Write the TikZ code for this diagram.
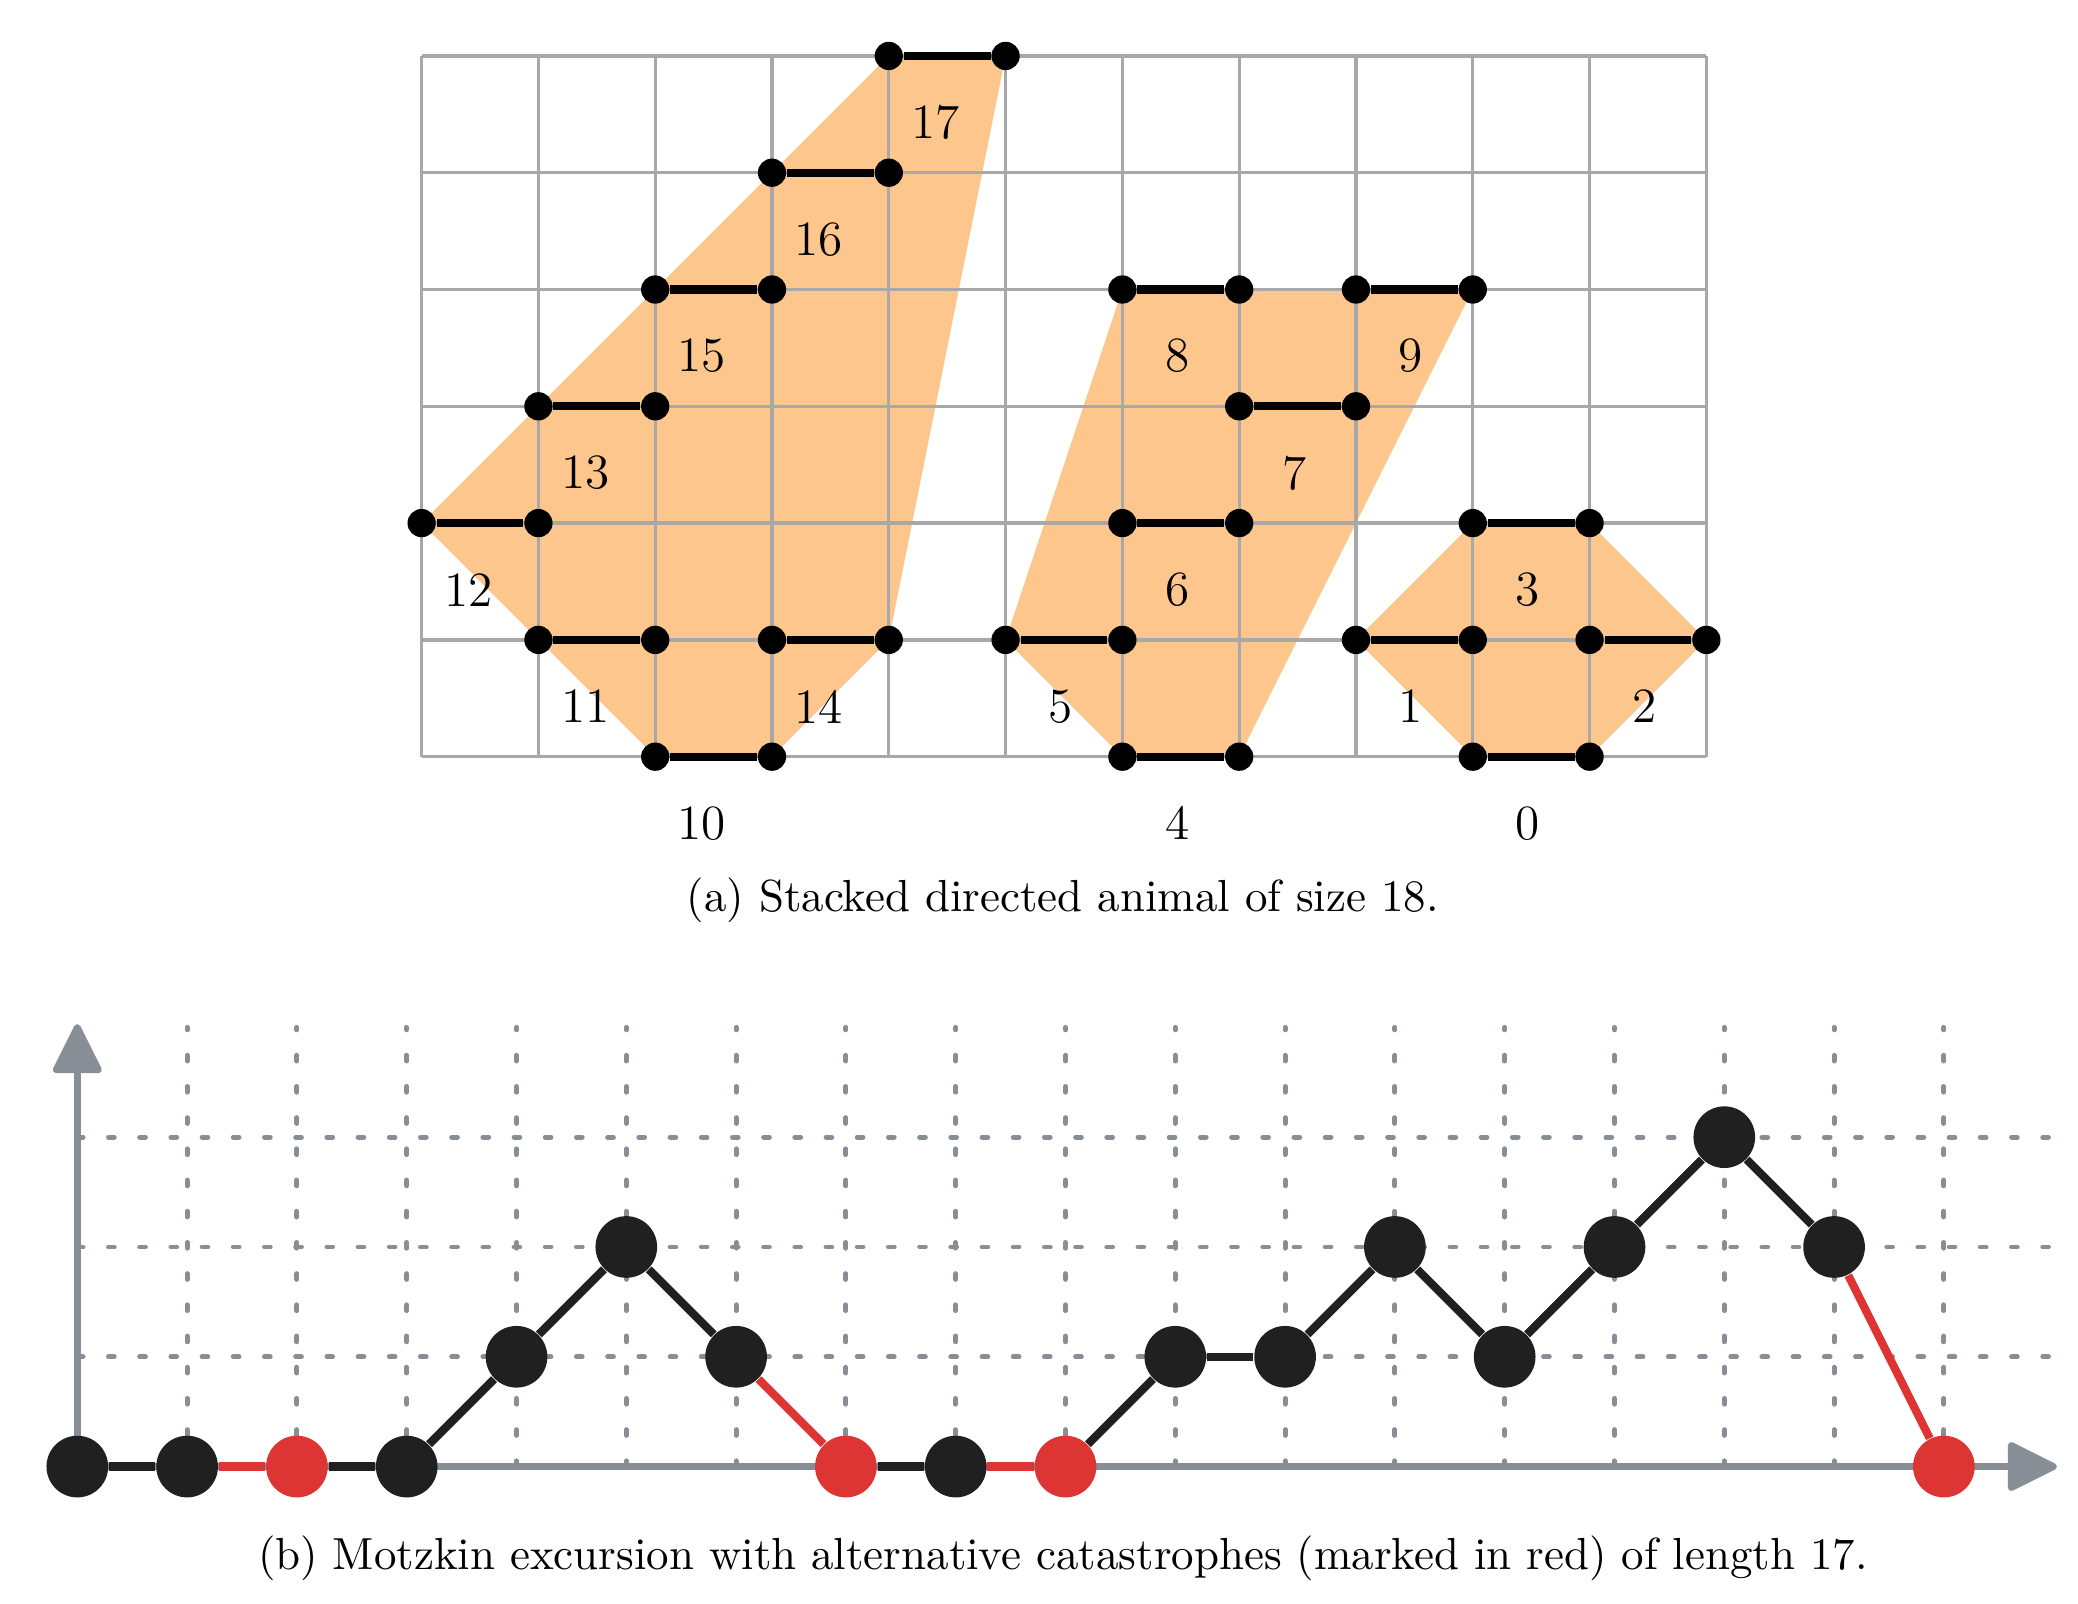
\documentclass[tikz,border=0pt]{standalone}
\usetikzlibrary{arrows.meta}
\definecolor{animalfill}{RGB}{252,198,140}
\definecolor{gridgray}{RGB}{168,168,168}
\definecolor{axisgray}{RGB}{135,142,150}
\definecolor{pathblack}{RGB}{32,32,32}
\definecolor{catred}{RGB}{221,52,52}
\tikzset{
  dot/.style={circle,fill=black,inner sep=0pt,minimum size=0.242cm},
  bar/.style={line width=2pt,black},
  lab/.style={font=\fontsize{12}{14}\selectfont,inner sep=0pt,anchor=center},
  captext/.style={font=\fontsize{10.95}{13}\selectfont,inner sep=0pt,anchor=base},
  mnode/.style={circle,fill=pathblack,inner sep=0pt,minimum size=0.528cm},
  rnode/.style={mnode,fill=catred},
  medge/.style={line width=2pt,pathblack},
  redge/.style={line width=2pt,catred},
  gdash/.style={axisgray,line width=1.2pt,line cap=round,dash pattern=on 1.4pt off 6.2pt},
  axisline/.style={axisgray,line width=1.6pt,-{Triangle[length=13pt,width=12.5pt,round]}},
}
\begin{document}
\begin{tikzpicture}
\useasboundingbox (-3.610,-7.253) rectangle (14.182,6.479);
% ---------- (a) stacked directed animal ----------
\fill[animalfill] (0,2)--(4,6)--(5,6)--(4,1)--(3,0)--(2,0)--(1,1)--cycle;
\fill[animalfill] (5,1)--(6,4)--(9,4)--(7,0)--(6,0)--cycle;
\fill[animalfill] (8,1)--(9,2)--(10,2)--(11,1)--(10,0)--(9,0)--cycle;
\draw[gridgray,line width=0.8pt] (0,0) grid (11,6);
\foreach \n/\x/\y/\dx in {17/4/6/0.40, 16/3/5/0.40, 15/2/4/0.40, 13/1/3/0.40,
  12/0/2/0.40, 11/1/1/0.40, 14/3/1/0.40, 10/2/0/0.40,
  8/6/4/0.47, 9/8/4/0.47, 7/7/3/0.47, 6/6/2/0.47, 5/5/1/0.47, 4/6/0/0.47,
  3/9/2/0.47, 1/8/1/0.47, 2/10/1/0.47, 0/9/0/0.47}{
  \node[dot] (L\n) at (\x,\y) {};
  \node[dot] (R\n) at (\x+1,\y) {};
  \draw[bar] (L\n) -- (R\n);
  \node[lab] (t\n) at (\x+\dx,\y-0.57) {\n};
}
\node[captext] (capa) at (5.49,-1.326) {(a) Stacked directed animal of size 18.};
% ---------- (b) Motzkin excursion ----------
\begin{scope}[shift={(-2.948cm,-6.078cm)},x=0.9401cm,y=0.9401cm]
  \foreach \i in {1,...,17} \draw[gdash] (\i,0) -- (\i,4);
  \foreach \j in {1,2,3} \draw[gdash] (0,\j) -- (18,\j);
  \draw[axisline] (0,0) -- (18.03,0);
  \draw[axisline] (0,0) -- (0,4.03);
  \foreach \i/\h/\s in {0/0/mnode, 1/0/mnode, 2/0/rnode, 3/0/mnode, 4/1/mnode,
    5/2/mnode, 6/1/mnode, 7/0/rnode, 8/0/mnode, 9/0/rnode, 10/1/mnode,
    11/1/mnode, 12/2/mnode, 13/1/mnode, 14/2/mnode, 15/3/mnode, 16/2/mnode,
    17/0/rnode}
    \node[\s] (p\i) at (\i,\h) {};
  \foreach \a/\b/\s in {0/1/medge, 1/2/redge, 2/3/medge, 3/4/medge, 4/5/medge,
    5/6/medge, 6/7/redge, 7/8/medge, 8/9/redge, 9/10/medge, 10/11/medge,
    11/12/medge, 12/13/medge, 13/14/medge, 14/15/medge, 15/16/medge, 16/17/redge}
    \draw[\s] (p\a) -- (p\b);
\end{scope}
\node[captext] (capb) at (5.49,-6.962) {(b) Motzkin excursion with alternative catastrophes (marked in red) of length 17.};
\end{tikzpicture}
\end{document}
